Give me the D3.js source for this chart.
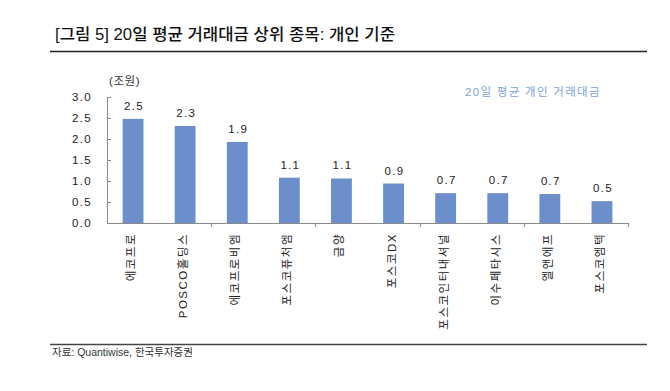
<!DOCTYPE html>
<html><head><meta charset="utf-8">
<script src="https://cdn.jsdelivr.net/npm/d3@7"></script>
<style>
html,body{margin:0;padding:0;background:#fff;}
svg{display:block;}
text{font-family:"Liberation Sans","Noto Sans CJK KR",sans-serif;}
</style></head>
<body>
<svg id="c" width="670" height="391"></svg>
<script>
const title = "[그림 5] 20일 평균 거래대금 상위 종목: 개인 기준";
const source = "자료: Quantiwise, 한국투자증권";
const unitLabel = "(조원)";
const seriesName = "20일 평균 개인 거래대금";
const categories = ["에코프로","POSCO홀딩스","에코프로비엠","포스코퓨처엠","금양","포스코DX","포스코인터내셔널","이수페타시스","엘앤에프","포스코엠텍"];
const values = [2.48, 2.31, 1.93, 1.08, 1.06, 0.94, 0.71, 0.71, 0.69, 0.52];
const valueLabels = ["2.5","2.3","1.9","1.1","1.1","0.9","0.7","0.7","0.7","0.5"];
const yTicks = [0, 0.5, 1.0, 1.5, 2.0, 2.5, 3.0];

const svg = d3.select("#c");
const x0 = 107, x1 = 628, yTop = 97, yBase = 223;
const x = d3.scaleBand().domain(categories).range([x0, x1]).paddingInner(0.6).paddingOuter(0.3);
const xb = d3.scaleBand().domain(categories).range([x0, x1]);
const y = d3.scaleLinear().domain([0, 3]).range([yBase, yTop]);

// title & rules
svg.append("text").attr("x", 55).attr("y", 40).attr("font-size", 16).attr("font-weight", 500)
  .attr("font-family", "'Noto Sans CJK KR',sans-serif").attr("fill", "#111")
  .attr("textLength", 340).attr("lengthAdjust", "spacingAndGlyphs").text(title);
svg.append("line").attr("x1", 50).attr("x2", 647).attr("y1", 51.5).attr("y2", 51.5).attr("stroke", "#222").attr("stroke-width", 1.3);
svg.append("line").attr("x1", 50).attr("x2", 647).attr("y1", 344.5).attr("y2", 344.5).attr("stroke", "#444").attr("stroke-width", 1.3);
svg.append("text").attr("x", 52).attr("y", 356).attr("font-size", 10.5).attr("fill", "#333")
  .attr("font-family", "'Noto Sans CJK KR',sans-serif").text(source);

// unit and legend
svg.append("text").attr("x", 109).attr("y", 85).attr("font-size", 11.5).attr("fill", "#333").attr("letter-spacing", 0.6).text(unitLabel);
svg.append("text").attr("x", 465).attr("y", 96).attr("font-size", 11.5).attr("fill", "#7ba1dc").attr("letter-spacing", 1.3).text(seriesName);

// y axis
const ya = svg.append("g");
ya.append("line").attr("x1", x0 + 0.5).attr("x2", x0 + 0.5).attr("y1", yTop).attr("y2", yBase).attr("stroke", "#8a8a8a");
ya.selectAll("line.t").data(yTicks).join("line").attr("class", "t")
  .attr("x1", x0).attr("x2", x0 + 4).attr("y1", d => Math.round(y(d)) + 0.5).attr("y2", d => Math.round(y(d)) + 0.5).attr("stroke", "#8a8a8a");
ya.selectAll("text").data(yTicks).join("text")
  .attr("x", 92).attr("y", d => y(d)).attr("dy", "0.36em").attr("text-anchor", "end")
  .attr("font-size", 11.5).attr("letter-spacing", 1.3).attr("fill", "#222").text(d => d3.format(".1f")(d));

// bars
svg.selectAll("rect.bar").data(values).join("rect").attr("class", "bar")
  .attr("x", (d, i) => x(categories[i])).attr("width", x.bandwidth())
  .attr("y", d => y(d)).attr("height", d => yBase - y(d)).attr("fill", "#6c8fcb");

// value labels
svg.selectAll("text.val").data(values).join("text").attr("class", "val")
  .attr("x", (d, i) => xb(categories[i]) + xb.bandwidth() / 2 + 1).attr("y", d => y(d) - 9)
  .attr("text-anchor", "middle").attr("font-size", 11.5).attr("letter-spacing", 1.3).attr("fill", "#222")
  .text((d, i) => valueLabels[i]);

// x axis
svg.append("line").attr("x1", x0).attr("x2", x1 + 1).attr("y1", yBase + 0.5).attr("y2", yBase + 0.5).attr("stroke", "#8a8a8a");
const bounds = categories.map((c, i) => i).filter(i => i % 2 === 1).map(i => xb(categories[i]) + xb.bandwidth());
svg.selectAll("line.xt").data(bounds).join("line").attr("class", "xt")
  .attr("x1", d => Math.round(d) + 0.5).attr("x2", d => Math.round(d) + 0.5).attr("y1", yBase).attr("y2", yBase + 4).attr("stroke", "#8a8a8a");

// category labels
svg.selectAll("text.cat").data(categories).join("text").attr("class", "cat")
  .attr("transform", d => `translate(${xb(d) + xb.bandwidth() / 2 - 2},233) rotate(-90)`)
  .attr("text-anchor", "end").attr("dy", "0.35em").attr("font-size", 11.5).attr("letter-spacing", 1.5)
  .attr("fill", "#222").text(d => d);
</script>
</body></html>
